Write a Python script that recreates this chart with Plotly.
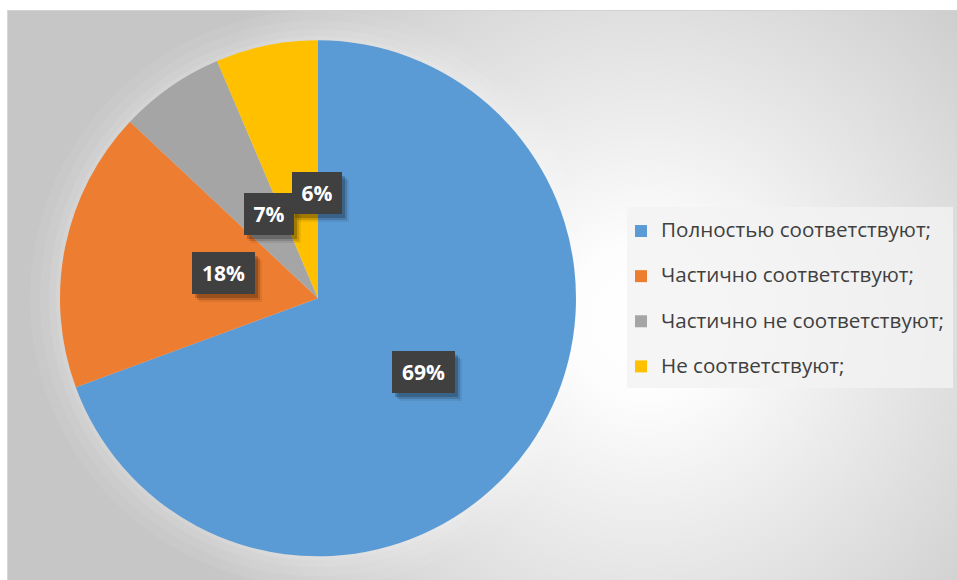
import base64
import math
import plotly.graph_objects as go

# ---- data ----
categories = ["Полностью соответствуют;", "Частично соответствуют;",
              "Частично не соответствуют;", "Не соответствуют;"]
values = [69.4, 17.6, 6.6, 6.4]
colors = ["#5B9BD5", "#ED7D31", "#A5A5A5", "#FFC000"]

# ---- layout constants (pixels) ----
W, H = 957, 580
CX, CY, R = 318, 298.3, 258

total = sum(values)
pct_labels = [f"{round(v / total * 100)}%" for v in values]

# background: white margin + radial grey gradient chart area + soft glow behind the pie
glow = "".join(
    f'<circle cx="{CX}" cy="{CY}" r="{R + d}" fill="#ffffff" fill-opacity="{a}"/>'
    for d, a in [(30, 0.06), (20, 0.07), (11, 0.08), (4, 0.1)]
)
svg = f'''<svg xmlns="http://www.w3.org/2000/svg" width="{W}" height="{H}" viewBox="0 0 {W} {H}" preserveAspectRatio="none">
<defs><radialGradient id="g" gradientUnits="userSpaceOnUse" cx="645" cy="320" r="500">
<stop offset="0" stop-color="#ffffff"/><stop offset="0.15" stop-color="#fdfdfd"/>
<stop offset="1" stop-color="#c6c6c6"/></radialGradient></defs>
<rect width="{W}" height="{H}" fill="#ffffff"/>
<rect x="7" y="10" width="{W - 7}" height="{H - 10}" fill="url(#g)"/>
{glow}
<line x1="7" y1="10.5" x2="{W}" y2="10.5" stroke="#d2d2d2"/>
<line x1="7.5" y1="10" x2="7.5" y2="{H}" stroke="#d8d8d8"/>
<rect width="{W}" height="10" fill="#ffffff"/>
<rect width="7" height="{H}" fill="#ffffff"/>
</svg>'''
bg_src = "data:image/svg+xml;base64," + base64.b64encode(svg.encode("utf-8")).decode()

fig = go.Figure()
fig.add_trace(go.Pie(
    labels=[f"<span style='font-size:20.6px'>{c}</span><br> " for c in categories],
    values=values,
    marker=dict(colors=colors, line=dict(width=0)),
    sort=False,
    direction="clockwise",
    rotation=0,
    textinfo="none",
    hoverinfo="none",
    domain=dict(x=[(CX - R) / W, (CX + R) / W], y=[1 - (CY + R) / H, 1 - (CY - R) / H]),
))

# data labels: dark boxes at half radius along each slice's mid-angle
annotations = []
cum = 0.0
for v, txt in zip(values, pct_labels):
    mid = (cum + v / 2) / total
    cum += v
    th = 2 * math.pi * mid
    px = CX + 0.5 * R * math.sin(th)
    py = CY - 0.5 * R * math.cos(th)
    w = 13 * len(txt) + 16
    common = dict(x=px / W, y=1 - py / H, xref="paper", yref="paper", showarrow=False,
                  width=w, height=34, borderpad=4, borderwidth=0)
    for dx, dy, a in [(7, -8, 0.07), (5, -6, 0.14), (3, -4, 0.2)]:
        annotations.append(dict(common, text=" ", xshift=dx, yshift=dy,
                                bgcolor=f"rgba(0,0,0,{a})", font=dict(color="rgba(0,0,0,0)")))
    annotations.append(dict(common, text=f"<b>{txt}</b>", bgcolor="#404040",
                            font=dict(family="Open Sans", size=21, color="#ffffff")))

fig.update_layout(
    width=W, height=H,
    margin=dict(l=0, r=0, t=0, b=0),
    paper_bgcolor="#ffffff",
    plot_bgcolor="rgba(0,0,0,0)",
    images=[dict(source=bg_src, xref="paper", yref="paper", x=0, y=1, sizex=1, sizey=1,
                 xanchor="left", yanchor="top", sizing="stretch", layer="below")],
    shapes=[dict(type="rect", xref="paper", yref="paper",
                 x0=627 / W, x1=953 / W, y0=1 - 388 / H, y1=1 - 207 / H,
                 fillcolor="rgba(242,242,242,0.8)", line=dict(width=0), layer="below")],
    legend=dict(x=621 / W, y=1 - 214 / H, xanchor="left", yanchor="top",
                bgcolor="rgba(0,0,0,0)", valign="top",
                font=dict(family="Open Sans", size=16.2, color="#404040")),
    annotations=annotations,
    showlegend=True,
)

fig.write_html("out.html", config={"displayModeBar": False},
               post_script="document.body.style.margin='0';")
